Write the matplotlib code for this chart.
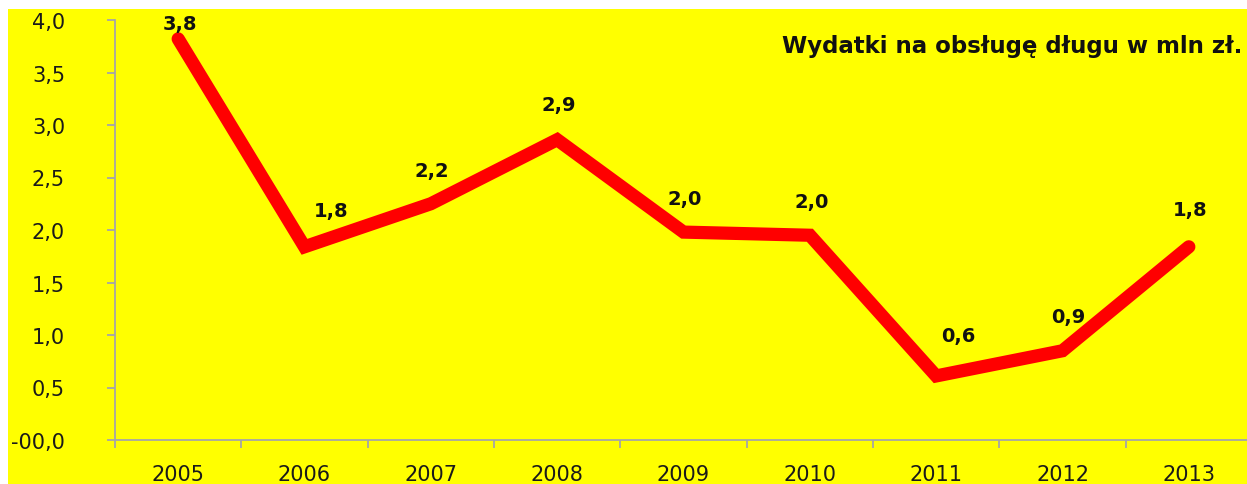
import matplotlib.pyplot as plt
from matplotlib.patches import Rectangle
import numpy as np

years = ['2005', '2006', '2007', '2008', '2009', '2010', '2011', '2012', '2013']
wydatki = [3.82, 1.84, 2.25, 2.86, 1.98, 1.95, 0.61, 0.85, 1.84]
etykiety = ['3,8', '1,8', '2,2', '2,9', '2,0', '2,0', '0,6', '0,9', '1,8']
y_ticks = [0, 0.5, 1.0, 1.5, 2.0, 2.5, 3.0, 3.5, 4.0]
y_tick_labels = ['-00,0', '0,5', '1,0', '1,5', '2,0', '2,5', '3,0', '3,5', '4,0']

# label offsets in points (dx, dy)
label_off = [(1, 11), (19, 26), (1, 24), (1, 25), (1, 24), (1, 24), (16, 29), (4, 25), (1, 27)]

plt.rcParams['font.family'] = ['DejaVu Sans']

fig = plt.figure(figsize=(12.47, 4.85), dpi=100)
fig.patch.set_facecolor('white')
fig.patches.append(Rectangle((8 / 1247, 0), 1, 475 / 485, transform=fig.transFigure,
                             facecolor='#FFFF00', edgecolor='none', zorder=-10))

ax = fig.add_axes([115 / 1247, 44 / 485, 1137 / 1247, 420 / 485])
ax.set_facecolor('none')
ax.set_zorder(1)

x = np.arange(len(years))
ax.plot(x, wydatki, color='#FF0000', linewidth=9.5, solid_capstyle='round',
        solid_joinstyle='miter', clip_on=False, zorder=3)

for xi, yi, lab, off in zip(x, wydatki, etykiety, label_off):
    ax.annotate(lab, (xi, yi), xytext=off, textcoords='offset points',
                ha='center', va='center', fontsize=14, fontweight='bold', color='#111111',
                zorder=4, annotation_clip=False)

ax.set_xlim(-0.5, len(years) - 0.5)
ax.set_ylim(0, 4.0)
ax.set_yticks(y_ticks)
ax.set_yticklabels(y_tick_labels)
ax.set_xticks(x)
ax.set_xticklabels(years)
ax.set_xticks(np.arange(-0.5, len(years), 1), minor=True)

grey = '#A6A6A6'
for s in ['top', 'right']:
    ax.spines[s].set_visible(False)
for s in ['left', 'bottom']:
    ax.spines[s].set_color(grey)
    ax.spines[s].set_linewidth(1.3)

ax.tick_params(axis='y', length=6, width=1.3, color=grey, pad=30, labelsize=15, labelcolor='#1a1a1a')
ax.tick_params(axis='x', which='major', length=0, pad=17, labelsize=15, labelcolor='#1a1a1a')
ax.tick_params(axis='x', which='minor', length=6, width=1.3, color=grey)

fig.text(1242 / 1247, 1 - 47 / 485, 'Wydatki na obsługę długu w mln zł.', ha='right', va='center',
         fontsize=16.5, fontweight='bold', color='#111111')

fig.savefig('out.png', dpi=100)
